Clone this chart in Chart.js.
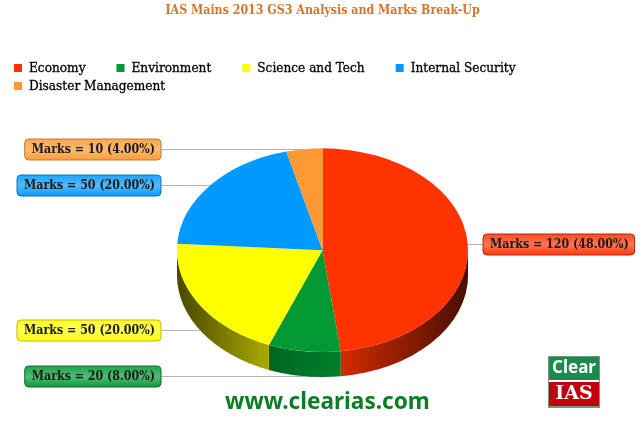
<!DOCTYPE html>
<html>
<head>
<meta charset="utf-8">
<title>IAS Mains 2013 GS3 Analysis and Marks Break-Up</title>
<style>
  html, body { margin: 0; padding: 0; background: #fff; }
  canvas { display: block; }
</style>
<script src="https://cdn.jsdelivr.net/npm/chart.js"></script>
</head>
<body>
<canvas id="grafico" width="643" height="441"></canvas>
<script>
const chartTitle = 'IAS Mains 2013 GS3 Analysis and Marks Break-Up';
const categories = ['Economy', 'Environment', 'Science and Tech', 'Internal Security', 'Disaster Management'];
const marks = [120, 20, 50, 50, 10];
const sliceColors = ['#FF3300', '#009933', '#FFFF00', '#0099FF', '#FF9933'];
const boxBorders = ['#a82a10', '#0d6b35', '#c8b810', '#0f6fb8', '#b87a3c'];
const siteText = 'www.clearias.com';

const serif = "'DejaVu Serif Condensed', 'DejaVu Serif', serif";
const squash = 0.7;   // top of the pie is an ellipse
const depth = 25;     // height of the side wall

function labelText(i) {
  const total = marks.reduce((a, b) => a + b, 0);
  return 'Marks = ' + marks[i] + ' (' + (marks[i] / total * 100).toFixed(2) + '%)';
}

function mixWhite(hex, k) {
  const n = parseInt(hex.slice(1), 16);
  const c = [n >> 16, (n >> 8) & 255, n & 255].map(v => Math.round(v + (255 - v) * k));
  return 'rgb(' + c.join(',') + ')';
}

// where each leader line leaves the pie
function anchors(chart) {
  return chart.getDatasetMeta(0).data.map(arc => {
    const mid = (arc.startAngle + arc.endAngle) / 2;
    const sin = Math.sin(mid);
    return {
      x: arc.x + arc.outerRadius * Math.cos(mid),
      y: arc.y + arc.outerRadius * squash * sin + (sin > 0 ? depth : 0)
    };
  });
}

const pie3d = {
  id: 'pie3d',
  beforeDatasetsDraw(chart) {
    const ctx = chart.ctx;
    const arcs = chart.getDatasetMeta(0).data;
    const cx = arcs[0].x, cy = arcs[0].y, rx = arcs[0].outerRadius, ry = rx * squash;

    // leader lines go behind the pie
    ctx.save();
    ctx.strokeStyle = '#b4b4b4';
    ctx.lineWidth = 1;
    anchors(chart).forEach(p => {
      const y = Math.round(p.y) + 0.5;
      ctx.beginPath();
      ctx.moveTo(p.x, y);
      ctx.lineTo(p.x < cx ? 161 : 483, y);
      ctx.stroke();
    });
    ctx.restore();

    // side wall, only the front half can be seen
    const shade = ctx.createLinearGradient(cx - rx, 0, cx + rx, 0);
    shade.addColorStop(0, 'rgba(0,0,0,0.72)');
    shade.addColorStop(0.32, 'rgba(0,0,0,0.33)');
    shade.addColorStop(0.56, 'rgba(0,0,0,0.17)');
    shade.addColorStop(1, 'rgba(0,0,0,0.72)');
    arcs.forEach((arc, i) => {
      const a0 = Math.max(arc.startAngle, 0);
      const a1 = Math.min(arc.endAngle, Math.PI);
      if (a1 <= a0) return;
      ctx.beginPath();
      ctx.ellipse(cx, cy, rx, ry, 0, a0, a1);
      ctx.ellipse(cx, cy + depth, rx, ry, 0, a1, a0, true);
      ctx.closePath();
      ctx.fillStyle = sliceColors[i];
      ctx.fill();
      ctx.fillStyle = shade;
      ctx.fill();
    });

    // the library draws the arcs inside this flattened space
    ctx.save();
    ctx.translate(cx, cy);
    ctx.scale(1, squash);
    ctx.translate(-cx, -cy);
  },
  afterDatasetsDraw(chart) {
    chart.ctx.restore();
  },
  afterDraw(chart) {
    const ctx = chart.ctx;
    const cx = chart.getDatasetMeta(0).data[0].x;

    // legend
    ctx.save();
    ctx.font = '13.5px ' + serif;
    ctx.textBaseline = 'middle';
    ctx.textAlign = 'left';
    ctx.lineWidth = 0.3;
    ctx.strokeStyle = '#000';
    let x = 14, y = 68;
    categories.forEach((name, i) => {
      const w = ctx.measureText(name).width;
      if (x + 15 + w > 540) { x = 14; y += 18; }
      ctx.fillStyle = sliceColors[i];
      ctx.fillRect(x, y - 4, 8, 8);
      ctx.fillStyle = '#000';
      ctx.fillText(name, x + 15, y);
      ctx.strokeText(name, x + 15, y);
      x += 15 + w + 31;
    });
    ctx.restore();

    // value boxes
    ctx.save();
    ctx.font = 'bold 12.3px ' + serif;
    ctx.textBaseline = 'middle';
    ctx.textAlign = 'left';
    anchors(chart).forEach((p, i) => {
      const text = labelText(i);
      const w = ctx.measureText(text).width + 13;
      const h = 21;
      const left = p.x < cx ? 161 - w : 483;
      const y = Math.round(p.y) + 0.5;
      const fill = ctx.createLinearGradient(0, y - h / 2, 0, y + h / 2);
      fill.addColorStop(0, mixWhite(sliceColors[i], 0.12));
      fill.addColorStop(0.5, mixWhite(sliceColors[i], 0.32));
      fill.addColorStop(1, mixWhite(sliceColors[i], 0.04));
      ctx.beginPath();
      ctx.roundRect(left, y - h / 2, w, h, 4);
      ctx.fillStyle = fill;
      ctx.fill();
      ctx.strokeStyle = boxBorders[i];
      ctx.lineWidth = 1;
      ctx.stroke();
      ctx.fillStyle = '#1a1a1a';
      ctx.fillText(text, left + 7, y + 0.5);
    });
    ctx.restore();

    // site address
    ctx.save();
    ctx.font = "bold 22.6px 'Noto Sans', sans-serif";
    ctx.textAlign = 'center';
    ctx.textBaseline = 'alphabetic';
    ctx.fillStyle = '#0b7d22';
    ctx.fillText(siteText, 327.5, 409);
    ctx.restore();

    // logo
    ctx.save();
    ctx.fillStyle = '#6f9a7c';
    ctx.fillRect(548, 356, 52, 52);
    ctx.fillStyle = '#1c8a4e';
    ctx.fillRect(549, 357, 50, 23);
    ctx.fillStyle = '#ffffff';
    ctx.fillRect(549, 380, 50, 2);
    ctx.fillStyle = '#c00010';
    ctx.fillRect(549, 382, 50, 24);
    ctx.textAlign = 'center';
    ctx.textBaseline = 'middle';
    ctx.fillStyle = '#ffffff';
    ctx.font = "bold 17px 'Noto Sans', sans-serif";
    ctx.fillText('Clear', 574, 368);
    ctx.font = "bold 19px 'DejaVu Serif', serif";
    ctx.fillText('IAS', 574, 394);
    ctx.restore();
  }
};

new Chart(document.getElementById('grafico'), {
  type: 'pie',
  data: {
    labels: categories,
    datasets: [{
      data: marks,
      backgroundColor: sliceColors,
      borderWidth: 0,
      radius: 145.5
    }]
  },
  options: {
    responsive: false,
    animation: false,
    devicePixelRatio: 1,
    layout: { padding: { left: 2, bottom: 37.4 } },
    plugins: {
      title: {
        display: true,
        text: chartTitle,
        color: '#d2752f',
        font: { family: serif, size: 12.3, weight: 'bold' },
        padding: { top: 3, bottom: 79 }
      },
      legend: { display: false },
      tooltip: { enabled: false }
    }
  },
  plugins: [pie3d]
});
</script>
</body>
</html>
